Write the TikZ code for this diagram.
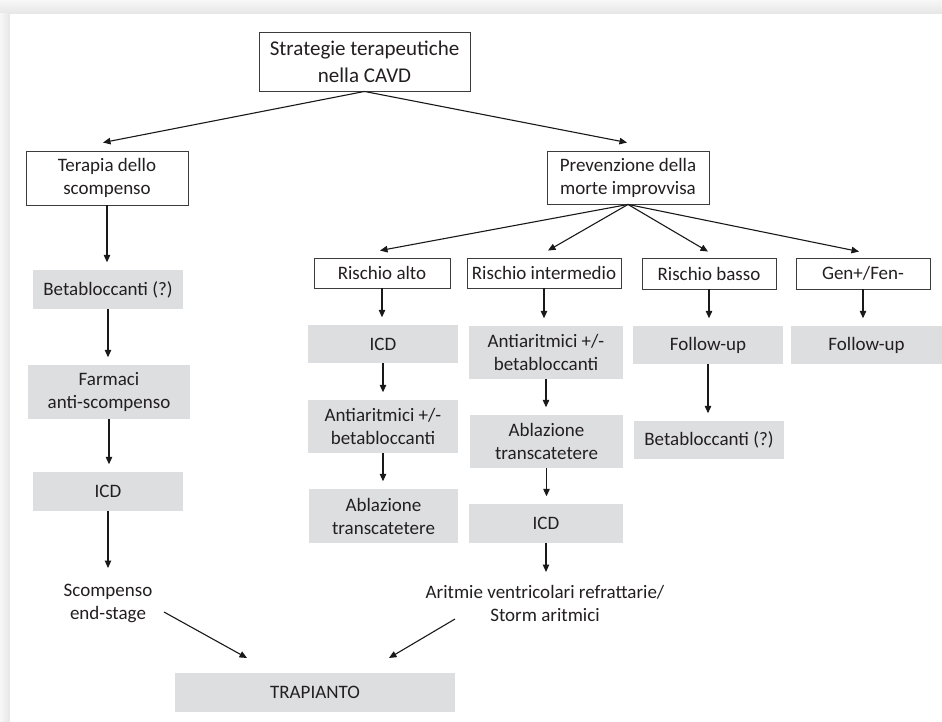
\documentclass[tikz,border=0pt]{standalone}
\usepackage{fontspec}
\setmainfont{Carlito}
\usetikzlibrary{arrows.meta,calc}
\definecolor{txt}{HTML}{231F20}
\definecolor{gfill}{RGB}{221,222,224}
\definecolor{edge}{HTML}{3C3C3C}
\definecolor{bandA}{HTML}{F7F7F7}
\definecolor{bandB}{HTML}{E6E6E6}
\newcommand{\fsn}{\fontsize{19bp}{23bp}\selectfont}
\newcommand{\fst}{\fontsize{21bp}{27bp}\selectfont}
\tikzset{
  wbox/.style={draw=edge, line width=0.9bp, fill=white, align=center, inner sep=0pt, text=txt, font=\fsn},
  gbox/.style={fill=gfill, draw=none, align=center, inner sep=0pt, text=txt, font=\fsn},
  plaintext/.style={align=center, inner sep=0pt, text=txt, font=\fsn},
  arr/.style={draw=black!90, line width=1.1bp, -{Triangle[length=7.5bp,width=6.5bp]}},
  varr/.style={arr, shorten >=7.5bp},
}
\begin{document}
\begin{tikzpicture}[x=1bp,y=-1bp]
\useasboundingbox (0,0) rectangle (942,722);
% background / frame
\fill[bandA] (0,0) rectangle (942,722);
\shade[top color=bandA, bottom color=bandB] (0,0) rectangle (942,14);
\shade[left color=bandA, right color=bandB] (0,14) rectangle (10,722);
\fill[white] (10,14) rectangle (942,722);

% nodes
\node[wbox, font=\fst, minimum width=211bp, minimum height=59bp] (title) at (364.5,61.5) {Strategie terapeutiche\\nella CAVD};
\node[wbox, minimum width=162bp, minimum height=54bp] (terapia) at (107,178) {Terapia dello\\scompenso};
\node[wbox, minimum width=162bp, minimum height=53bp] (prev) at (628,177.5) {Prevenzione della\\morte improvvisa};

\node[gbox, minimum width=150bp, minimum height=39bp] (beta1) at (108,289.5) {Betabloccanti (?)};
\node[gbox, minimum width=162bp, minimum height=54bp] (farm) at (109,392) {Farmaci\\anti-scompenso};
\node[gbox, minimum width=150bp, minimum height=39bp] (icd1) at (108,491.5) {ICD};
\node[plaintext] (scomp) at (108,603.5) {Scompenso\\end-stage};
\node[gbox, minimum width=280bp, minimum height=39bp] (trap) at (315,692.5) {TRAPIANTO};

\node[wbox, minimum width=136bp, minimum height=30bp] (alto) at (382,273) {Rischio alto};
\node[wbox, minimum width=154bp, minimum height=30bp] (inter) at (544,273) {Rischio intermedio};
\node[wbox, minimum width=134bp, minimum height=31bp] (basso) at (709,273.5) {Rischio basso};
\node[wbox, minimum width=134bp, minimum height=31bp] (gen) at (863,273.5) {Gen+/Fen-};

\node[gbox, minimum width=150bp, minimum height=38bp] (icd2) at (383,344) {ICD};
\node[gbox, minimum width=150bp, minimum height=53bp] (anti2) at (383,426.5) {Antiaritmici +/-\\betabloccanti};
\node[gbox, minimum width=149bp, minimum height=54bp] (abl2) at (383.5,516) {Ablazione\\transcatetere};

\node[gbox, minimum width=154bp, minimum height=53bp] (anti3) at (546,352.5) {Antiaritmici +/-\\betabloccanti};
\node[gbox, minimum width=153bp, minimum height=53bp] (abl3) at (546.5,441.5) {Ablazione\\transcatetere};
\node[gbox, minimum width=154bp, minimum height=39bp] (icd3) at (546,523.5) {ICD};
\node[plaintext] (arit) at (545,603.5) {Aritmie ventricolari refrattarie/\\Storm aritmici};

\node[gbox, minimum width=150bp, minimum height=38bp] (fu1) at (708,345) {Follow-up};
\node[gbox, minimum width=150bp, minimum height=38bp] (beta2) at (709,440) {Betabloccanti (?)};
\node[gbox, minimum width=151bp, minimum height=38bp] (fu2) at (866.5,345) {Follow-up};

% free ends of the connectors to TRAPIANTO
\coordinate (s1) at (164,612);
\coordinate (t1) at (247,658);
\coordinate (s2) at (455,619);
\coordinate (t2) at (389,658);

% diagonal connectors
\draw[arr] (title.south) -- ($(terapia.north)+(-4,-8)$);
\draw[arr] (title.south) -- ($(prev.north)+(-1,-8)$);
\draw[arr] (prev.south) -- ($(alto.north)+(-2,-7)$);
\draw[arr] (prev.south) -- ($(inter.north)+(4,-7)$);
\draw[arr] (prev.south) -- ($(basso.north)+(-1,-6)$);
\draw[arr] (prev.south) -- ($(gen.north)+(-4,-6)$);

% vertical connectors
\draw[varr] (terapia.south) -- (terapia.south |- beta1.north);
\draw[varr] (beta1.south) -- (beta1.south |- farm.north);
\draw[varr] (farm.south) -- (farm.south |- icd1.north);
\draw[arr] (icd1.south) -- (icd1.south |- 0,568);

\draw[varr] (alto.south) -- (alto.south |- icd2.north);
\draw[varr] (icd2.south) -- (icd2.south |- anti2.north);
\draw[varr] (anti2.south) -- (anti2.south |- abl2.north);

\draw[varr] (inter.south) -- (inter.south |- anti3.north);
\draw[varr] (anti3.south) -- (anti3.south |- abl3.north);
\draw[varr] (abl3.south) -- (abl3.south |- icd3.north);
\draw[arr] (icd3.south) -- (icd3.south |- 0,572);

\draw[varr] (basso.south) -- (basso.south |- fu1.north);
\draw[varr] (fu1.south) -- (fu1.south |- beta2.north);
\draw[varr] (gen.south) -- (gen.south |- fu2.north);

\draw[arr] (s1) -- (t1);
\draw[arr] (s2) -- (t2);
\end{tikzpicture}
\end{document}
